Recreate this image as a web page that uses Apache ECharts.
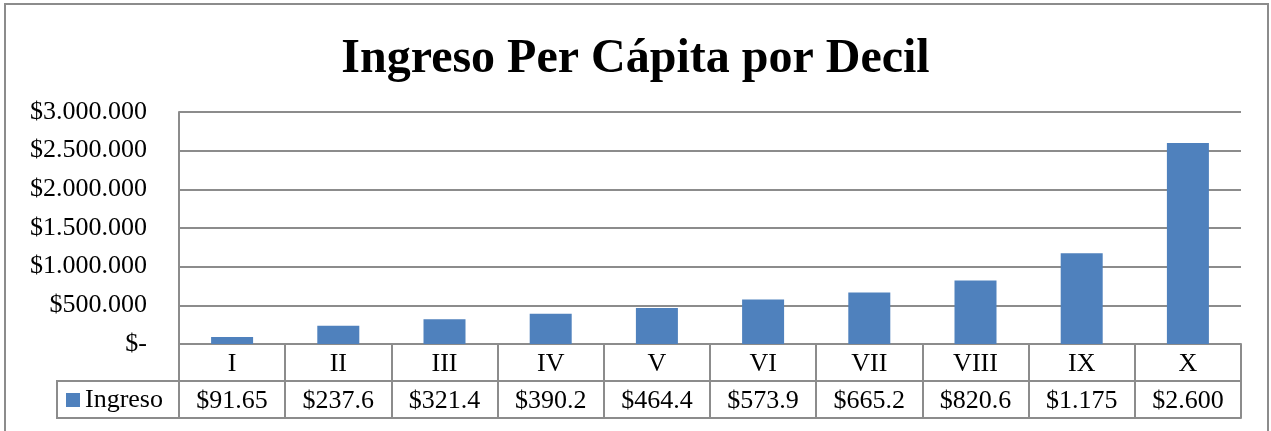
<!DOCTYPE html>
<html>
<head>
<meta charset="utf-8">
<title>Ingreso Per Cápita por Decil</title>
<script src="https://cdn.jsdelivr.net/npm/echarts@6/dist/echarts.min.js"></script>
<style>
  html, body { margin: 0; padding: 0; background: #fff; }
  #chart { width: 1271px; height: 431px; }
</style>
</head>
<body>
<div id="chart"></div>
<script>
// deciles y su ingreso per cápita
var deciles = ['I', 'II', 'III', 'IV', 'V', 'VI', 'VII', 'VIII', 'IX', 'X'];
var ingreso = [91650, 237600, 321400, 390200, 464400, 573900, 665200, 820600, 1175000, 2600000];
// como se ven en la tabla de datos (texto cortado por la celda)
var tablaIngreso = ['$91.65', '$237.6', '$321.4', '$390.2', '$464.4', '$573.9', '$665.2', '$820.6', '$1.175', '$2.600'];
var yTicks = [0, 500000, 1000000, 1500000, 2000000, 2500000, 3000000];

var fuente = '"Liberation Serif", "Times New Roman", serif';
var gris = '#8c8c8c';

function pesos(v) {
    if (v === 0) return '$-';
    return '$' + String(v).replace(/\B(?=(\d{3})+(?!\d))/g, '.');
}

var myChart = echarts.init(document.getElementById('chart'));

var option = {
    animation: false,
    title: {
        text: 'Ingreso Per Cápita por Decil',
        left: 'center',
        top: 31,
        textStyle: {
            fontFamily: fuente,
            fontWeight: 'bold',
            fontSize: 48,
            color: '#000'
        }
    },
    legend: {
        data: ['Ingreso'],
        left: 66,
        top: 387,
        padding: 0,
        itemWidth: 14,
        itemHeight: 14,
        itemGap: 6,
        icon: 'rect',
        textStyle: { fontFamily: fuente, fontSize: 26, color: '#000' }
    },
    grid: { left: 179, right: 30, top: 112, bottom: 87 },
    xAxis: [
        {
            type: 'category',
            data: deciles,
            position: 'bottom',
            axisLine: { lineStyle: { color: gris, width: 2 } },
            axisTick: { show: true, length: 74, interval: 0, lineStyle: { color: gris, width: 2 } },
            axisLabel: {
                interval: 0, margin: 20, verticalAlign: 'middle',
                fontFamily: fuente, fontSize: 26, color: '#000'
            }
        },
        {
            type: 'category',
            data: tablaIngreso,
            position: 'bottom',
            offset: 37,
            axisLine: { lineStyle: { color: gris, width: 2 } },
            axisTick: { show: false },
            axisLabel: {
                interval: 0, margin: 20, verticalAlign: 'middle',
                fontFamily: fuente, fontSize: 26, color: '#000'
            }
        },
        {
            type: 'category',
            data: deciles,
            position: 'bottom',
            offset: 74,
            axisLine: { lineStyle: { color: gris, width: 2 } },
            axisTick: { show: false },
            axisLabel: { show: false }
        }
    ],
    yAxis: {
        type: 'value',
        min: yTicks[0],
        max: yTicks[yTicks.length - 1],
        interval: yTicks[1] - yTicks[0],
        axisLine: { show: true, lineStyle: { color: gris, width: 2 } },
        axisTick: { show: false },
        splitLine: { lineStyle: { color: gris, width: 2 } },
        axisLabel: {
            margin: 32,
            fontFamily: fuente, fontSize: 26, color: '#000',
            formatter: pesos
        }
    },
    series: [
        {
            name: 'Ingreso',
            type: 'bar',
            data: ingreso,
            barWidth: 42,
            itemStyle: { color: '#4f81bd' }
        }
    ],
    graphic: [
        {
            type: 'rect',
            shape: { x: 5, y: 4, width: 1263, height: 440 },
            style: { fill: 'none', stroke: gris, lineWidth: 2 },
            silent: true,
            z: -1
        },
        {
            type: 'polyline',
            shape: { points: [[179, 381], [57, 381], [57, 418], [179, 418]] },
            style: { fill: 'none', stroke: gris, lineWidth: 2 },
            silent: true
        }
    ]
};

myChart.setOption(option);
</script>
</body>
</html>
